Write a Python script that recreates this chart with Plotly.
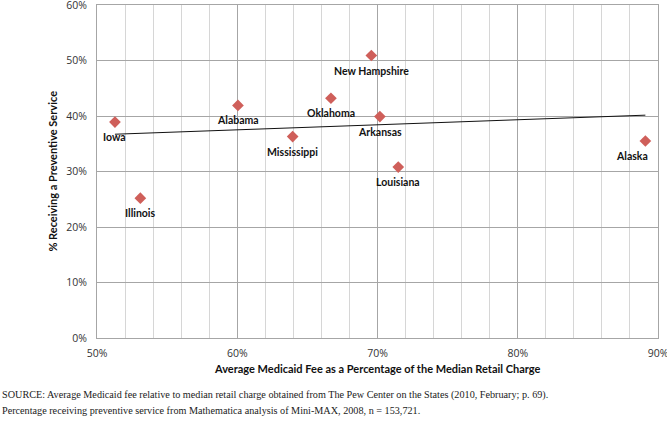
import numpy as np
import plotly.graph_objects as go

states = ["Iowa", "Illinois", "Alabama", "Mississippi", "Oklahoma",
          "New Hampshire", "Arkansas", "Louisiana", "Alaska"]
fee_pct = [0.5128, 0.5309, 0.6005, 0.6395, 0.6668, 0.6956, 0.7017, 0.7148, 0.8910]
preventive_pct = [0.389, 0.252, 0.419, 0.363, 0.432, 0.509, 0.399, 0.308, 0.355]
x_ticks = [0.5, 0.6, 0.7, 0.8, 0.9]
y_ticks = [0.0, 0.1, 0.2, 0.3, 0.4, 0.5, 0.6]
label_xshift = [0, 0, 0, 0, 0, 0, 0, 0, -13]
source_lines = [
    "SOURCE: Average Medicaid fee relative to median retail charge obtained from The Pew Center on the States (2010, February; p. 69).",
    "Percentage receiving preventive service from Mathematica analysis of Mini-MAX, 2008, n = 153,721.",
]

x = np.array(fee_pct)
y = np.array(preventive_pct)
slope, intercept = np.polyfit(x, y, 1)
trend_x = np.array([x.min(), x.max()])
trend_y = slope * trend_x + intercept

fig = go.Figure()
fig.add_trace(go.Scatter(x=trend_x, y=trend_y, mode="lines",
                         line=dict(color="#111111", width=1), hoverinfo="skip",
                         showlegend=False))
fig.add_trace(go.Scatter(x=fee_pct, y=preventive_pct, mode="markers",
                         marker=dict(symbol="diamond", size=9, color="#cf5f5a"),
                         showlegend=False))

for s, xv, yv, xs in zip(states, fee_pct, preventive_pct, label_xshift):
    fig.add_annotation(x=xv, y=yv, text="<b>%s</b>" % s, showarrow=False,
                       yshift=-15, xshift=xs, xanchor="center", yanchor="middle",
                       font=dict(family="Lato", size=10.5, color="#111111"))

fig.add_annotation(xref="paper", yref="paper", x=0.5, y=-0.093, yanchor="middle",
                   text="<b>Average Medicaid Fee as a Percentage of the Median Retail Charge</b>",
                   showarrow=False, font=dict(family="Lato", size=11, color="#111111"))
fig.add_annotation(xref="paper", yref="paper", x=-0.080, y=0.5, textangle=-90,
                   xanchor="center", yanchor="middle",
                   text="<b>% Receiving a Preventive Service</b>",
                   showarrow=False, font=dict(family="Lato", size=11, color="#111111"))
for i, line in enumerate(source_lines):
    fig.add_annotation(xref="paper", yref="paper", x=-0.1729, y=-0.171 - 0.048 * i,
                       xanchor="left", yanchor="middle", align="left",
                       text=line, showarrow=False,
                       font=dict(family="Liberation Serif", size=10.2, color="#1a1a1a"))

fig.update_xaxes(range=[0.5, 0.9], tickvals=x_ticks, tickformat=".0%",
                 showgrid=True, gridcolor="#a6a6a6", gridwidth=1,
                 minor=dict(dtick=0.02, tick0=0.5, showgrid=True, gridcolor="#d6d6d6", gridwidth=1),
                 showline=True, linecolor="#a6a6a6", mirror=True, zeroline=False,
                 ticks="", ticklen=0, ticklabelstandoff=5, ticklabeloverflow="allow",
                 automargin=False,
                 tickfont=dict(family="Open Sans", size=10.5, color="#333333"))
fig.update_yaxes(range=[0, 0.6], tickvals=y_ticks, tickformat=".0%",
                 showgrid=True, gridcolor="#a6a6a6", gridwidth=1,
                 showline=True, linecolor="#a6a6a6", mirror=True, zeroline=False,
                 ticks="", ticklen=0, ticklabelstandoff=7, ticklabeloverflow="allow",
                 automargin=False,
                 tickfont=dict(family="Open Sans", size=10.5, color="#333333"))

fig.update_layout(width=667, height=421, margin=dict(l=97, r=9, t=5, b=83, autoexpand=False),
                  plot_bgcolor="white", paper_bgcolor="white", showlegend=False)

fig.write_html("out.html", config={"displayModeBar": False},
               post_script="document.body.style.margin='0';")
